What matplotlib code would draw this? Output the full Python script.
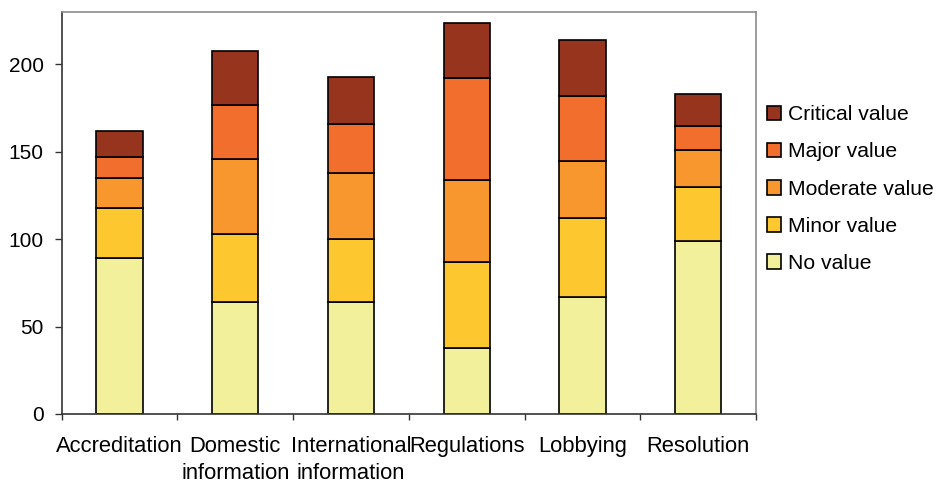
import numpy as np
import matplotlib
matplotlib.use("Agg")
import matplotlib.pyplot as plt
import matplotlib.ticker as ticker

plt.rcParams.update({
    "font.family": ["Liberation Sans", "DejaVu Sans"],
    "font.size": 15,
})

# ── Data ──────────────────────────────────────────────────────────────────────
categories = ["Accreditation", "Domestic\ninformation", "International\ninformation",
              "Regulations", "Lobbying", "Resolution"]
series_names = ["No value", "Minor value", "Moderate value", "Major value", "Critical value"]
no_value       = [89, 64, 64, 38, 67, 99]
minor_value    = [29, 39, 36, 49, 45, 31]
moderate_value = [17, 43, 38, 47, 33, 21]
major_value    = [12, 31, 28, 58, 37, 14]
critical_value = [15, 31, 27, 32, 32, 18]

COLORS = ["#F3F09B", "#FDC82F", "#F8972E", "#F26E2C", "#96341E"]

fig = plt.figure(figsize=(9.37, 4.83), dpi=100)
ax = fig.add_axes([0.0658, 0.143, 0.741, 0.832])

x = np.arange(len(categories))
bottom = np.zeros(len(categories))
handles = []
for name, vals, col in zip(series_names,
                           [no_value, minor_value, moderate_value, major_value, critical_value],
                           COLORS):
    h = ax.bar(x, vals, width=0.4, bottom=bottom, color=col,
               edgecolor="black", linewidth=1.2, label=name)
    handles.append(h)
    bottom += np.array(vals)

ax.set_xlim(-0.5, len(categories) - 0.5)
ax.set_ylim(0, 230)
ax.yaxis.set_major_locator(ticker.MultipleLocator(50))

# x: ticks at boundaries, labels centred on categories
ax.set_xticks(np.arange(-0.5, len(categories), 1.0))
ax.set_xticklabels([])
ax.set_xticks(x, minor=True)
ax.set_xticklabels(categories, minor=True, fontsize=15.8, linespacing=1.35)
ax.tick_params(axis="x", which="major", direction="out", length=4, width=1, color="#333333")
ax.tick_params(axis="x", which="minor", length=0, pad=16)
ax.tick_params(axis="y", direction="out", length=5, width=1, color="#333333", pad=8)

for side in ["left", "bottom"]:
    ax.spines[side].set_color("#333333")
    ax.spines[side].set_linewidth(1.2)
for side in ["top", "right"]:
    ax.spines[side].set_color("#8c8c8c")
    ax.spines[side].set_linewidth(1.2)

leg = ax.legend(handles[::-1], series_names[::-1], loc="upper left",
                bbox_to_anchor=(0.991, 0.81), frameon=False,
                handlelength=0.7, handleheight=0.7, handletextpad=0.3,
                labelspacing=0.86, borderaxespad=0.4, fontsize=15.2)

fig.savefig("out.png", dpi=100)
